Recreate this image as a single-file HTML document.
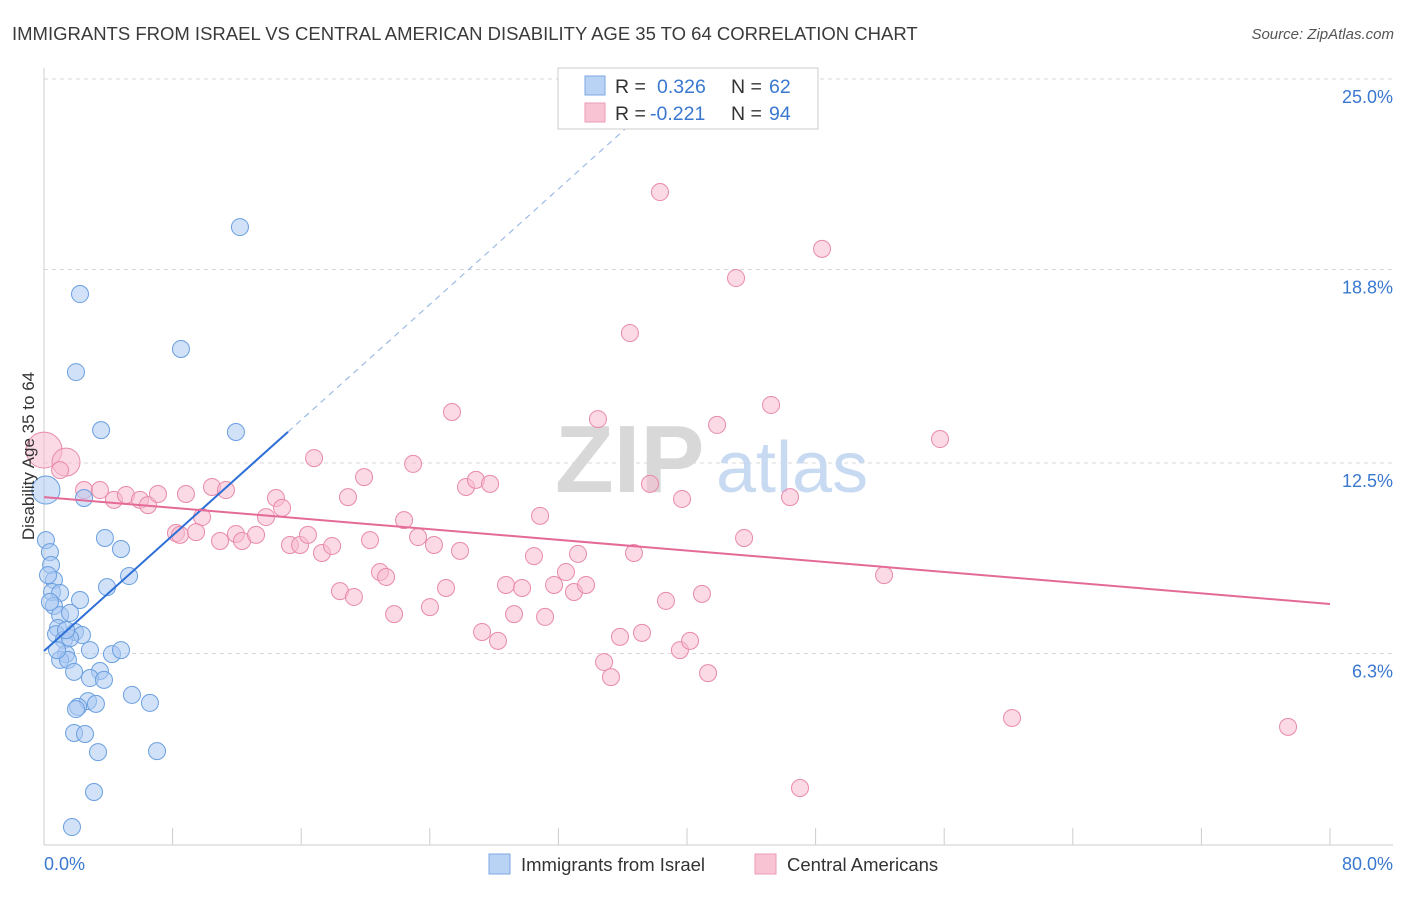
<!DOCTYPE html>
<html><head><meta charset="utf-8">
<style>
body{margin:0;background:#fff;font-family:"Liberation Sans",sans-serif;}
svg text{font-family:"Liberation Sans",sans-serif;}
</style></head>
<body>
<svg id="chart" width="1406" height="892" xmlns="http://www.w3.org/2000/svg">
<text x="12" y="40" font-size="18.5" fill="#3a3a3a">IMMIGRANTS FROM ISRAEL VS CENTRAL AMERICAN DISABILITY AGE 35 TO 64 CORRELATION CHART</text>
<text x="1394" y="39" font-size="15" fill="#555" text-anchor="end" font-style="italic">Source: ZipAtlas.com</text>
<g id="grid"></g>
<g>
<text x="555" y="492" font-size="96" fill="#d8d8d8" font-family="Liberation Serif" font-weight="bold">ZIP</text>
<text x="716" y="492" font-size="72" fill="#c8daf2">atlas</text>
</g>
<g id="marks"></g>
<text transform="translate(34,456) rotate(-90)" font-size="17" fill="#333" text-anchor="middle">Disability Age 35 to 64</text>
<g>
<rect x="558" y="68" width="260" height="61" fill="#fff" stroke="#ccc"/>
<rect x="585" y="76" width="20" height="19" fill="#b9d3f5" stroke="#7aa7e4"/>
<rect x="585" y="103" width="20" height="19" fill="#f8c4d4" stroke="#eb9bb6"/>
<text x="615" y="93" font-size="19.5" fill="#333">R = <tspan fill="#3a78d0" x="657">0.326</tspan><tspan x="731">N = </tspan><tspan fill="#3a78d0" x="769">62</tspan></text>
<text x="615" y="120" font-size="19.5" fill="#333">R = <tspan fill="#3a78d0" x="650">-0.221</tspan><tspan x="731">N = </tspan><tspan fill="#3a78d0" x="769">94</tspan></text>
</g>
<g>
<rect x="489" y="854" width="21" height="20" fill="#b9d3f5" stroke="#7aa7e4"/>
<text x="521" y="871" font-size="18.5" fill="#333">Immigrants from Israel</text>
<rect x="755" y="854" width="21" height="20" fill="#f8c4d4" stroke="#eb9bb6"/>
<text x="787" y="871" font-size="18.5" fill="#333">Central Americans</text>
</g>
</svg>
<script>
const yTicks=[25.0,18.8,12.5,6.3];
const yTickLabels=["25.0%","18.8%","12.5%","6.3%"];
const xTicks=[0,8,16,24,32,40,48,56,64,72,80];
const xEndLabels=["0.0%","80.0%"];
const israelX=[12.19,2.24,8.52,1.99,3.55,11.94,2.49,0.12,0.12,0.37,0.44,3.79,4.79,5.29,3.92,0.62,0.50,1.00,0.62,2.24,1.00,1.62,0.87,1.93,2.36,0.75,1.24,1.62,2.86,4.23,4.79,1.37,1.00,1.49,1.87,3.48,2.86,3.73,5.47,6.59,2.74,3.23,2.12,1.99,1.87,2.55,3.36,7.03,3.11,1.74,0.25,0.37,0.81,1.37];
const israelY=[20.18,18.00,16.21,15.46,13.57,13.51,11.36,11.62,9.99,9.60,9.18,10.06,9.70,8.82,8.46,8.69,8.30,8.27,7.85,8.04,7.55,7.62,7.13,7.00,6.90,6.93,6.74,6.80,6.41,6.28,6.41,6.28,6.09,6.09,5.70,5.73,5.50,5.44,4.95,4.69,4.75,4.66,4.56,4.49,3.71,3.68,3.09,3.12,1.79,0.65,8.85,7.98,6.41,7.06];
const centralX=[0,1.37,1.00,2.49,3.48,4.35,5.10,5.97,6.47,7.09,8.83,10.45,11.32,9.83,8.21,8.46,9.46,10.95,11.94,12.32,13.19,13.81,14.43,14.81,15.30,15.93,16.42,16.80,17.29,17.92,18.91,19.91,20.28,18.41,19.28,20.90,21.28,21.78,22.40,22.96,23.27,24.01,24.26,25.01,25.38,25.88,26.25,26.87,27.75,27.25,28.24,28.74,29.24,29.74,30.86,30.48,31.17,31.73,32.47,32.97,33.22,33.72,34.46,34.84,35.27,35.83,36.45,36.70,37.20,37.70,38.32,38.69,39.56,39.69,40.19,40.93,41.31,41.87,43.05,43.55,45.23,46.41,47.03,48.40,52.26,55.74,60.22,77.39];
const centralY=[12.92,12.53,12.27,11.62,11.62,11.30,11.46,11.30,11.13,11.49,11.49,11.72,11.62,10.74,10.22,10.16,10.25,9.96,10.19,9.96,10.16,10.74,11.36,11.04,9.83,9.83,10.16,12.66,9.57,9.80,11.39,12.04,9.99,8.33,8.14,8.95,8.79,7.58,10.64,12.47,10.09,7.81,9.83,8.43,14.16,9.64,11.72,11.95,11.82,7.00,6.71,8.53,7.58,8.43,10.78,9.47,7.49,8.53,8.95,8.30,9.54,8.53,13.93,6.02,5.53,6.84,16.73,9.57,6.97,11.82,21.32,8.01,6.41,11.33,6.71,8.24,5.66,13.74,18.52,10.06,14.39,11.39,1.92,19.47,8.85,13.28,4.20,3.91];
const israelBig=[7];
const centralBig=[0,1];
const israelTrend=[6.38,0.47];
const centralTrend=[11.39,-0.0435];

const NS="http://www.w3.org/2000/svg";
const X0=44,X1=1330,Y25=79,YS=30.72;
function sx(v){return X0+(v/80)*(X1-X0);}
function sy(v){return Y25+(25-v)*YS;}
function mk(tag,attrs,parent){const e=document.createElementNS(NS,tag);for(const k in attrs)e.setAttribute(k,attrs[k]);parent.appendChild(e);return e;}
const grid=document.getElementById('grid'),marks=document.getElementById('marks');
yTicks.forEach((t,i)=>{
 const l=mk('line',{x1:X0,x2:1393,y1:sy(t),y2:sy(t),stroke:'#d8d8d8','stroke-dasharray':'4,4'},grid);
 
 
 const tx=mk('text',{x:1393,y:sy(t)+24,'font-size':18,fill:'#3a78d0','text-anchor':'end'},grid);
 tx.textContent=yTickLabels[i];
 
 
});
const ya=mk('line',{x1:X0,x2:X0,y1:68,y2:845,stroke:'#ccc'},grid);


const xa=mk('line',{x1:X0,x2:1393,y1:845,y2:845,stroke:'#ccc'},grid);


xTicks.forEach(t=>{
 const l=mk('line',{x1:sx(t),x2:sx(t),y1:828,y2:845,stroke:'#ccc'},grid);
 
 
});
[[0,'start',44],[80,'end',1393]].forEach((d,i)=>{
 const tx=mk('text',{x:d[2],y:870,'font-size':18,fill:'#3a78d0','text-anchor':d[1]},grid);
 tx.textContent=xEndLabels[i];
 
 
});
function pts(xs,ys,big,fill,stroke,name){
 xs.forEach((x,i)=>{
  const c=mk('circle',{cx:sx(x),cy:sy(ys[i]),r:big.includes(i)?(name==='central-point'&&i===0?18:14):8.5,fill:fill,'fill-opacity':0.55,stroke:stroke,'stroke-width':1},marks);
  
  
 });
}
pts(centralX,centralY,centralBig,'#f8bcd0','#e88aaa','central-point');
pts(israelX,israelY,israelBig,'#a9c9f2','#6a9fe0','israel-point');
const bEnd=15.18, bTop=(25-israelTrend[0])/israelTrend[1];
const bl=mk('line',{x1:sx(0),y1:sy(israelTrend[0]),x2:sx(bEnd),y2:sy(israelTrend[0]+israelTrend[1]*bEnd),stroke:'#2d6fd6','stroke-width':2},marks);


const bd=mk('line',{x1:sx(bEnd),y1:sy(israelTrend[0]+israelTrend[1]*bEnd),x2:sx(bTop),y2:sy(25),stroke:'#9dbbe6','stroke-width':1.2,'stroke-dasharray':'6,5'},marks);


const pl=mk('line',{x1:sx(0),y1:sy(centralTrend[0]),x2:sx(80),y2:sy(centralTrend[0]+centralTrend[1]*80),stroke:'#e46a97','stroke-width':2},marks);


</script>
</body></html>
